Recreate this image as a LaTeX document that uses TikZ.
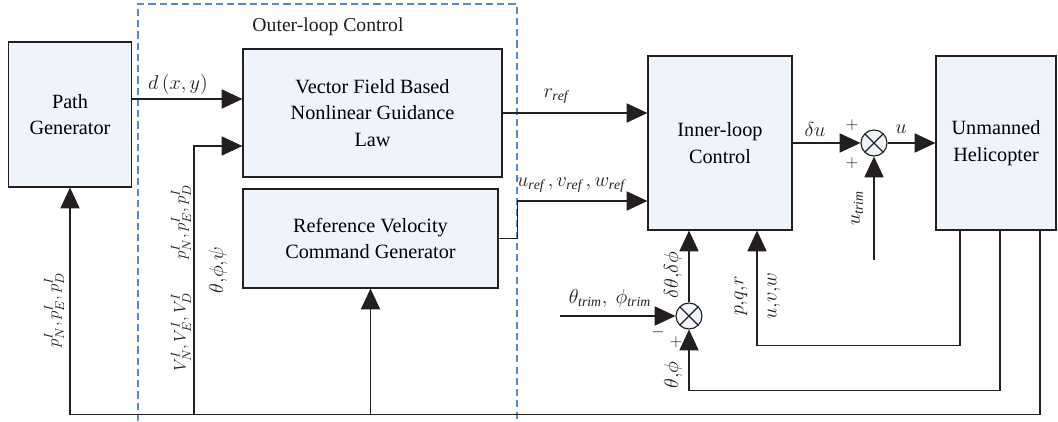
\documentclass[tikz,border=0pt]{standalone}
\usepackage{amsmath,amssymb}
\usepackage{fontspec}
\setmainfont{Liberation Serif}
\usepackage{xcolor}
\usepackage{tikz}
\usetikzlibrary{calc,arrows.meta}
\definecolor{boxfill}{HTML}{EFF3FB}
\definecolor{wire}{HTML}{231F20}
\definecolor{outerblue}{HTML}{5A8AC6}
\tikzset{
  blockBox/.style={draw=wire, fill=boxfill, line width=0.8pt, align=center, inner sep=2pt, font=\fontsize{14.4}{19}\selectfont},
  sumNode/.style={circle, draw=wire, fill=boxfill, line width=0.8pt, minimum size=0.65cm, inner sep=0pt,
    path picture={\draw[wire, line width=0.8pt] (path picture bounding box.north west) -- (path picture bounding box.south east)
      (path picture bounding box.north east) -- (path picture bounding box.south west);}},
  sigLine/.style={draw=wire, line width=0.8pt},
  sigArr/.style={sigLine, -{Triangle[length=0.52cm, width=0.48cm]}},
  outerBox/.style={draw=outerblue, dash pattern=on 5pt off 3pt, line width=0.8pt},
  sigLbl/.style={text=wire, inner sep=1pt, font=\fontsize{14}{16}\selectfont},
  vecLbl/.style={sigLbl, rotate=90, font=\fontsize{13}{15}\selectfont},
  signLbl/.style={text=wire, inner sep=0pt, font=\fontsize{12}{12}\selectfont},
}

\begin{document}
\begin{tikzpicture}[x=0.025cm, y=-0.025cm]
  \useasboundingbox (0,0) rectangle (1058,421);

  \draw[outerBox] (138,421) -- (138,4) -- (517,4) -- (517,421);
  \node[sigLbl] (outerTtl) at (328,27) {Outer-loop Control};

  \node[blockBox, minimum width=3.075cm, minimum height=3.625cm] (pathGen) at (70,114.5) {Path\\Generator};
  \node[blockBox, minimum width=6.475cm, minimum height=3.2cm] (guidLaw) at (372.5,113) {Vector Field Based\\Nonlinear Guidance\\Law};
  \node[blockBox, minimum width=6.375cm, minimum height=2.475cm] (refVel) at (370.5,238.5) {Reference Velocity\\Command Generator};
  \node[blockBox, minimum width=3.6cm, minimum height=4.35cm] (innerLoop) at (720,143) {Inner-loop\\Control};
  \node[blockBox, minimum width=3.0cm, minimum height=4.35cm] (heli) at (996,143) {Unmanned\\Helicopter};
  \node[sumNode] (sumU) at (874,143) {};
  \node[sumNode] (sumAtt) at (689,316) {};

  \coordinate (guidIn1) at ($(guidLaw.west)+(0,-14)$);
  \coordinate (guidIn2) at ($(guidLaw.west)+(0,33)$);
  \coordinate (innerIn2) at ($(innerLoop.west)+(0,58)$);
  \coordinate (innerIn3) at ($(innerLoop.south)+(37,0)$);
  \coordinate (heliOut1) at ($(heli.south)+(-36,0)$);
  \coordinate (heliOut2) at ($(heli.south)+(4,0)$);
  \coordinate (heliOut3) at ($(heli.south)+(44,0)$);
  \coordinate (trimIn) at ($(sumAtt)+(-129,0)$);
  \coordinate (uTrimIn) at ($(sumU)+(0,117)$);
  \coordinate (busTap) at (194,414);

  \draw[sigArr] (pathGen.east |- guidIn1) -- (guidIn1);
  \draw[sigArr] (heliOut3) -- ++(0,184) coordinate (busR) -| (pathGen.south);
  \draw[sigArr] (busTap) |- (guidIn2);
  \draw[sigArr] (refVel.south |- busR) -- (refVel.south);
  \draw[sigArr] (guidLaw.east) -- (guidLaw.east -| innerLoop.west);
  \draw[sigArr] (refVel.east) -- ++(19,0) |- (innerIn2);
  \draw[sigArr] (innerLoop.east) -- (sumU.west);
  \draw[sigArr] (sumU.east) -- (heli.west);
  \draw[sigArr] (uTrimIn) -- (sumU.south);
  \draw[sigArr] (sumAtt.north) -- (sumAtt.north |- innerLoop.south);
  \draw[sigArr] (trimIn) -- (sumAtt.west);
  \draw[sigArr] (heliOut2) -- ++(0,160) -| (sumAtt.south);
  \draw[sigArr] (heliOut1) -- ++(0,115) -| (innerIn3);

  \node[sigLbl] (dLbl) at (178,84) {$d\,(x, y)$};
  \node[sigLbl] (rLbl) at (556,96) {$r_{\mathit{ref}}$};
  \node[sigLbl] (uvwRefLbl) at (571,185) {$u_{\mathit{ref}}\,,v_{\mathit{ref}}\,,w_{\mathit{ref}}$};
  \node[sigLbl] (duLbl) at (815,129) {$\delta u$};
  \node[sigLbl] (uLbl) at (901,129) {$u$};
  \node[sigLbl] (trimLbl) at (610,298) {$\theta_{\mathit{trim}},\ \phi_{\mathit{trim}}$};
  \node[sigLbl, rotate=90] (uTrimLbl) at (857,208) {$u_{\mathit{trim}}$};
  \node[sigLbl, rotate=90] (dAttLbl) at (673,275) {$\delta\theta{,}\delta\phi$};
  \node[sigLbl, rotate=90] (attLbl) at (673,375) {$\theta{,}\phi$};
  \node[sigLbl, rotate=90] (pqrLbl) at (741,296) {$p{,}q{,}r$};
  \node[sigLbl, rotate=90] (uvwLbl) at (774,296) {$u{,}v{,}w$};
  \node[vecLbl] (posLbl) at (54,310) {$p^I_N{,}\,p^I_E{,}\,p^I_D$};
  \node[vecLbl] (posLbl2) at (181,222) {$p^I_N{,}\,p^I_E{,}\,p^I_D$};
  \node[vecLbl] (velLbl) at (181,332) {$V^I_N{,}\,V^I_E{,}\,V^I_D$};
  \node[sigLbl, rotate=90] (eulLbl) at (218,270) {$\theta{,}\phi{,}\psi$};

  \node[signLbl] (sgnU1) at (852,125) {$+$};
  \node[signLbl] (sgnU2) at (852,163) {$+$};
  \node[signLbl] (sgnAtt1) at (658,332) {$-$};
  \node[signLbl] (sgnAtt2) at (676,342) {$+$};
\end{tikzpicture}
\end{document}
